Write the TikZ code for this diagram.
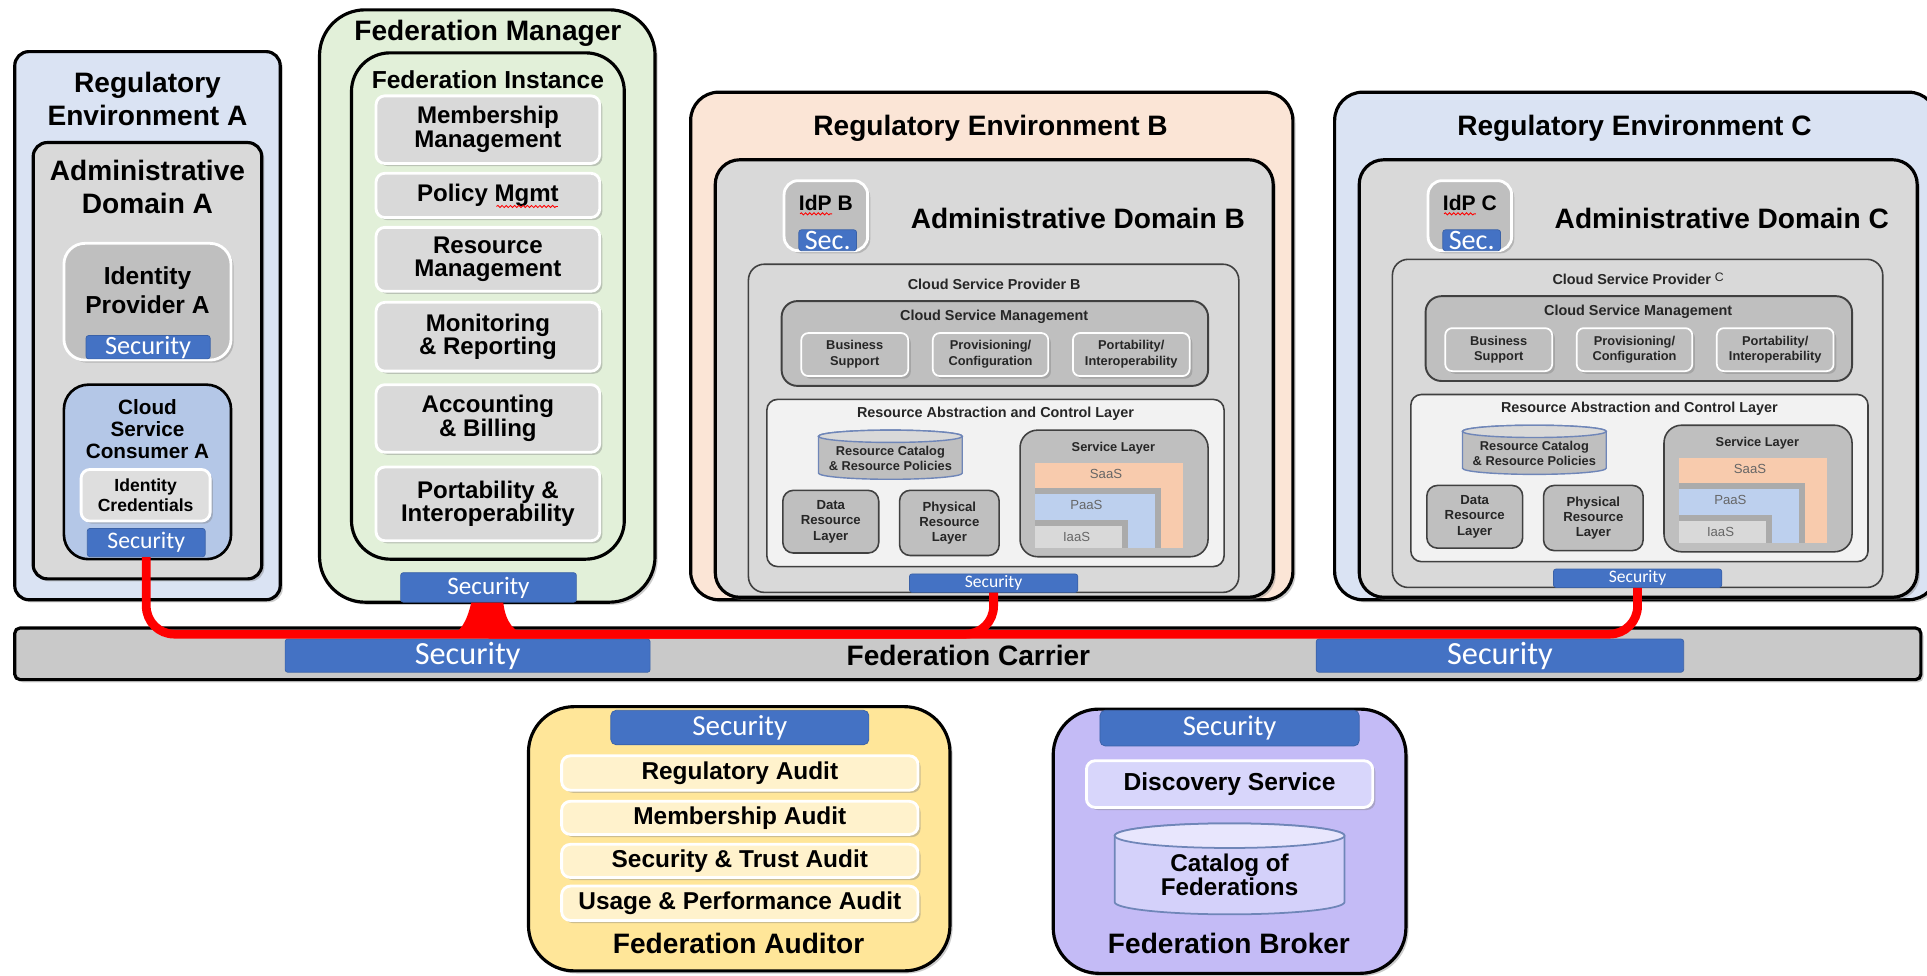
\documentclass[tikz,border=0pt]{standalone}
\usepackage{fontspec}
\setmainfont{Liberation Sans}
\newfontfamily\secfont{Carlito}
\usetikzlibrary{shadows,fit,calc,decorations.pathmorphing}
\definecolor{envblue}{HTML}{DAE3F3}
\definecolor{envpeach}{HTML}{FBE5D6}
\definecolor{fedgreen}{HTML}{E2F0D9}
\definecolor{domgray}{HTML}{D9D9D9}
\definecolor{midgray}{HTML}{BFBFBF}
\definecolor{cscblue}{HTML}{B4C7E7}
\definecolor{secblue}{HTML}{4472C4}
\definecolor{raclgray}{HTML}{F2F2F2}
\definecolor{saas}{HTML}{F8CBAD}
\definecolor{paas}{HTML}{BDD0EE}
\definecolor{carrier}{HTML}{C9C9C9}
\definecolor{audyellow}{HTML}{FFE699}
\definecolor{audlight}{HTML}{FFF2CC}
\definecolor{brokerlav}{HTML}{C4BBF6}
\definecolor{disclav}{HTML}{D8D6FB}
\definecolor{cylblue}{HTML}{6F86B8}
\definecolor{fedred}{HTML}{FF0000}
\newcommand{\fsz}[2]{\fontsize{#1}{#2}\selectfont}

\begin{document}
\begin{tikzpicture}[x=0.0246cm,y=-0.0246cm,
    box/.style={draw=black,line width=1.8pt,rounded corners=8pt},
    shd/.style={drop shadow={shadow xshift=1.5pt,shadow yshift=-1.5pt,opacity=0.4}},
    wbox/.style={draw=white,line width=1.6pt,rounded corners=5pt,shd,inner sep=0pt},
    tbox/.style={draw=black!75,line width=0.9pt,rounded corners=6pt},
    secbar/.style={fill=secblue,draw=secblue!85!black,line width=0.4pt,rounded corners=1.5pt,inner sep=0pt},
    sectxt/.style={text=white,inner sep=0pt,font=\secfont\fsz{#1}{#1}},
    ttl/.style={font=\fsz{16}{18.8}\bfseries,align=center},
    lab/.style={font=\fsz{8.2}{9.5}\bfseries,align=center,text=black!85},
    smalllab/.style={font=\fsz{7.3}{9}\bfseries,align=center,text=black!85},
    xaas/.style={font=\fsz{7.5}{8},text=black!60},
    squig/.style={draw=fedred,line width=0.5pt,decorate,decoration={snake,amplitude=0.6pt,segment length=2.4pt}},
    redline/.style={draw=fedred,line width=5pt,rounded corners=16pt}]
\useasboundingbox (0,0) rectangle (1568,794);

% regulatory environment A
\draw[box,fill=envblue,shd] (12,42) rectangle (228,488);
\node[ttl] (regA) at (120,80.5) {Regulatory\\Environment A};
\draw[box,fill=domgray,shd] (27,116) rectangle (213,471);
\node[ttl] (admA) at (120,152.5) {Administrative\\Domain A};
\node[wbox,fill=midgray,rounded corners=12pt,fit={(52,198) (188,293)}] (idpA) {};
\node[font=\fsz{14}{16.8}\bfseries,align=center] at (120,236) {Identity\\Provider A};
\node[secbar,fit={(70,273) (171,292)}] (secIdpA) {};
\node[sectxt=15] at (secIdpA) {Security};
\draw[box,fill=cscblue,rounded corners=14pt,line width=1.5pt] (52,313) rectangle (188,455);
\node[font=\fsz{11.8}{12.6}\bfseries,align=center] (cscA) at (120,349) {Cloud\\Service\\Consumer A};
\node[wbox,fill=black!13,fit={(66,382) (171,424)}] (cred) {};
\node[font=\fsz{10}{11.9}\bfseries,align=center] at (cred) {Identity\\Credentials};
\node[secbar,fit={(71,430) (167,453)}] (secCSC) {};
\node[sectxt=13.5] at (secCSC) {Security};

% federation manager
\draw[box,fill=fedgreen,rounded corners=26pt,shd] (260,8) rectangle (533,490);
\node[ttl] (fedman) at (397,27) {Federation Manager};
\draw[box,fill=fedgreen,rounded corners=22pt] (286,43) rectangle (508,455);
\node[font=\fsz{14}{14}\bfseries] (fedinst) at (397,65) {Federation Instance};
\foreach \ya/\yb/\txt [count=\i] in {78/133/{Membership\\Management},141/177/{Policy Mgmt},185/237/{Resource\\Management},246/302/{Monitoring\\\& Reporting},313/368/{Accounting\\\& Billing},380/440/{Portability \&\\Interoperability}}{
  \node[wbox,fill=domgray,fit={(306,\ya) (488,\yb)}] (fm\i) {};
  \node[font=\fsz{13.7}{13.5}\bfseries,align=center] at (fm\i) {\txt};
}
\draw[squig] (404,168) -- (454,168);
\node[secbar,fit={(326,466) (469,490)}] (secFM) {};
\node[sectxt=14.3] at (secFM) {Security};

% regulatory environments B and C
\foreach \e/\dx/\dy/\col/\csp in {B/0/0/envpeach/{B},C/524/-4/envblue/{\raisebox{2pt}{\fsz{7}{7}\mdseries C}}}{
  \begin{scope}[shift={(\dx,0)}]
    \draw[box,fill=\col,rounded corners=16pt,shd] (562,75) rectangle (1052,488);
    \node[ttl] (reg\e) at (806,104) {Regulatory Environment \e};
    \draw[box,fill=domgray,rounded corners=14pt,shd] (582,130) rectangle (1036,486);
    \node[wbox,fill=midgray,rounded corners=8pt,fit={(638,147) (706,204)}] (idp\e) {};
    \node[font=\fsz{12}{12}\bfseries] at (672,165) {IdP \e};
    \draw[squig] (651,174) -- (677,174);
    \node[secbar,fit={(650,187) (697,204)}] (secIdp\e) {};
    \node[sectxt=16] at (secIdp\e) {Sec.};
    \node[ttl] (adm\e) at (877,178) {Administrative Domain \e};
  \end{scope}
  \begin{scope}[shift={(\dx,\dy)}]
    \draw[tbox,fill=domgray,rounded corners=9pt] (609,215) rectangle (1008,482);
    \node[lab] (csp\e) at (809,231) {Cloud Service Provider \csp};
    \draw[tbox,fill=midgray,rounded corners=9pt,line width=1.1pt] (636,245) rectangle (983,314);
    \node[lab] at (809,258) {Cloud Service Management};
    \foreach \xa/\xb/\txt [count=\j] in {652/739/{Business\\Support},759/853/{Provisioning/\\Configuration},873/968/{Portability/\\Interoperability}}{
      \node[wbox,line width=1pt,fill=midgray,rounded corners=4pt,fit={(\xa,271) (\xb,306)}] (csm\e\j) {};
      \node[smalllab] at (csm\e\j) {\txt};
    }
    \draw[tbox,fill=raclgray] (624,325) rectangle (996,461);
    \node[lab] at (810,337) {Resource Abstraction and Control Layer};
    \filldraw[fill=midgray,draw=cylblue,line width=0.8pt] (666,355) -- (666,385)
      arc[start angle=180,end angle=0,x radius=58.5,y radius=5] -- (783,355)
      arc[start angle=0,end angle=-180,x radius=58.5,y radius=5] -- cycle;
    \filldraw[fill=black!15,draw=cylblue,line width=0.8pt] (724.5,355) ellipse [x radius=58.5,y radius=5];
    \node[smalllab] (cat\e) at (724.5,373) {Resource Catalog\\\& Resource Policies};
    \node[tbox,fill=midgray,inner sep=0pt,fit={(637,399) (715,450)}] (data\e) {};
    \node[font=\fsz{7.5}{8.7}\bfseries,text=black!85,align=center] at (data\e) {Data\\Resource\\Layer};
    \node[tbox,fill=midgray,inner sep=0pt,fit={(732,399) (813,452)}] (phys\e) {};
    \node[font=\fsz{7.5}{8.7}\bfseries,text=black!85,align=center] at (phys\e) {Physical\\Resource\\Layer};
    \draw[tbox,fill=midgray,rounded corners=10pt] (830,350) rectangle (983,453);
    \node[smalllab] at (906,365) {Service Layer};
    \fill[saas] (842,377) rectangle (963,446);
    \fill[black!33] (842,397) rectangle (945,446);
    \fill[paas] (842,402) rectangle (940,446);
    \fill[black!33] (842,423) rectangle (918,446);
    \fill[domgray] (842,428) rectangle (913,446);
    \node[xaas] at (900,386) {SaaS};
    \node[xaas] at (884,411) {PaaS};
    \node[xaas] at (876,437) {IaaS};
    \node[secbar,fit={(740,467) (877,482)}] (sec\e) {};
    \node[sectxt=10] at (sec\e) {Security};
  \end{scope}
}

% federation carrier
\node[box,fill=carrier,rounded corners=3pt,inner sep=0pt,fit={(12,511) (1563,553)},shd] (carrier) {};
\node[ttl] at (788,533) {Federation Carrier};
\node[secbar,fit={(232,520) (529,547)}] (secCarL) {};
\node[sectxt=18.4] at (secCarL) {Security};
\node[secbar,fit={(1071,520) (1370,547)}] (secCarR) {};
\node[sectxt=18.4] at (secCarR) {Security};

% security links
\coordinate (bus) at (0,516);
\draw[redline] (secCSC.south) |- (bus -| secC.south) -- (secC.south);
\draw[redline] (secB.south) |- (bus -| secFM.south);
\fill[fedred] ($(secFM.south)+(-14,0)$) .. controls ($(secFM.south)+(-18,16)$) and ($(secFM.south)+(-22,24)$) .. ($(secFM.south)+(-34,28)$)
  -- ($(secFM.south)+(34,28)$) .. controls ($(secFM.south)+(20,24)$) and ($(secFM.south)+(14,16)$) .. ($(secFM.south)+(12,0)$) -- cycle;

% federation auditor
\draw[box,fill=audyellow,rounded corners=26pt,shd] (430,575) rectangle (773,790);
\node[secbar,rounded corners=3pt,fit={(497,578) (707,606)}] (secAud) {};
\node[sectxt=16.5] at (secAud) {Security};
\foreach \ya/\yb/\txt [count=\i] in {615/643/{Regulatory Audit},652/679/{Membership Audit},687/714/{Security \& Trust Audit},721/749/{Usage \& Performance Audit}}{
  \node[wbox,fill=audlight,fit={(457,\ya) (747,\yb)}] (aud\i) {};
  \node[font=\fsz{13.9}{14}\bfseries] at (aud\i) {\txt};
}
\node[ttl] (auditor) at (601,768) {Federation Auditor};

% federation broker
\draw[box,fill=brokerlav,rounded corners=26pt,shd] (857,577) rectangle (1144,792);
\node[secbar,rounded corners=3pt,fit={(895,578) (1106,607)}] (secBrk) {};
\node[sectxt=16.3] at (secBrk) {Security};
\node[wbox,fill=disclav,fit={(884,619) (1117,657)}] (disc) {};
\node[font=\fsz{14}{14}\bfseries] at (disc) {Discovery Service};
\filldraw[fill=disclav!80!brokerlav,draw=cylblue,line width=1pt] (907,680) -- (907,734)
  arc[start angle=180,end angle=0,x radius=93.5,y radius=10] -- (1094,680)
  arc[start angle=0,end angle=-180,x radius=93.5,y radius=10] -- cycle;
\filldraw[fill=disclav!60!white,draw=cylblue,line width=1pt] (1000.5,680) ellipse [x radius=93.5,y radius=10];
\node[font=\fsz{13.8}{12.5}\bfseries,align=center] (catfed) at (1000.5,712) {Catalog of\\Federations};
\node[ttl] (broker) at (1000,768) {Federation Broker};
\end{tikzpicture}
\end{document}
